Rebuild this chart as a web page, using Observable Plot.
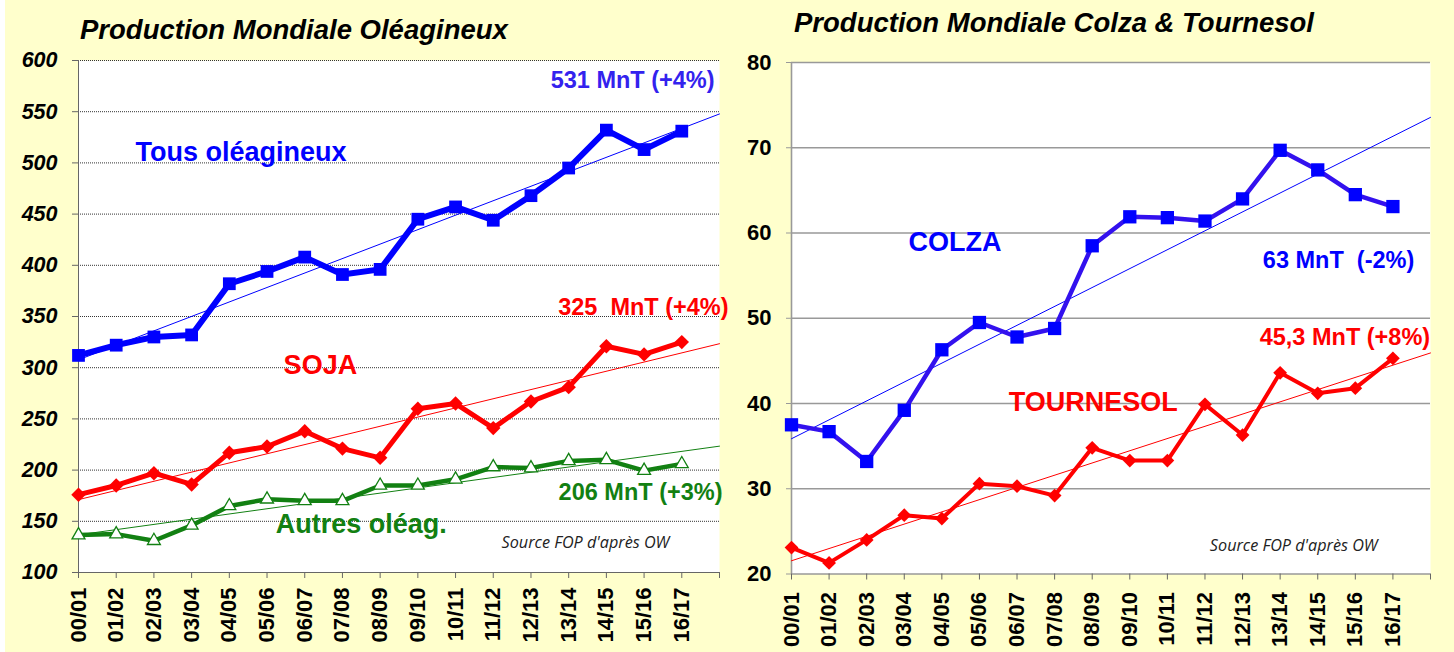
<!DOCTYPE html>
<html><head><meta charset="utf-8">
<script src="https://cdn.jsdelivr.net/npm/d3@7"></script>
<script src="https://cdn.jsdelivr.net/npm/@observablehq/plot@0.6"></script>
<style>
body{margin:0;background:#FFFFCC;width:1454px;height:652px;position:relative;overflow:hidden;font-family:"Liberation Sans",Arial,sans-serif;}
#edge{position:absolute;left:0;top:0;width:5px;height:652px;background:#fff}
.title{position:absolute;font-weight:bold;font-style:italic;font-size:27.5px;line-height:32px;color:#000;white-space:nowrap;}
#t1{left:80px;top:14px;}
#t2{left:794px;top:7px;}
#c1{position:absolute;left:0;top:0}
#c2{position:absolute;left:740px;top:0}
</style></head><body>
<div id="edge"></div>
<div id="c1"></div><div id="c2"></div>
<div class="title" id="t1">Production Mondiale Oléagineux</div>
<div class="title" id="t2">Production Mondiale Colza &amp; Tournesol</div>
<script>
const seasons = ["00/01","01/02","02/03","03/04","04/05","05/06","06/07","07/08","08/09","09/10","10/11","11/12","12/13","13/14","14/15","15/16","16/17"];
const tous = [312,322,330,332,382,394,408,391,396,445,457,444,468,495,532,513,531];
const soja = [176,185,197,186,217,223,238,221,212,260,265,241,267,281,321,313,325];
const autres = [136.5,137.5,131,146,165,171.5,170,170,185,185,191,203,202,209,210,199.5,206];
const colza = [37.5,36.7,33.2,39.2,46.3,49.5,47.8,48.8,58.5,61.9,61.8,61.4,64.0,69.7,67.4,64.5,63.1];
const tournesol = [23.1,21.3,24.0,26.9,26.5,30.6,30.3,29.2,34.8,33.3,33.3,39.9,36.3,43.6,41.2,41.8,45.3];
const leftTicks = [100,150,200,250,300,350,400,450,500,550,600];
const rightTicks = [20,30,40,50,60,70,80];
const leftLabels = ["531 MnT (+4%)","Tous oléagineux","325  MnT (+4%)","SOJA","206 MnT (+3%)","Autres oléag."];
const rightLabels = ["COLZA","63 MnT  (-2%)","45,3 MnT (+8%)","TOURNESOL"];
const sourceLabel = "Source FOP d'après OW";

const FONT = "Liberation Sans, Arial, sans-serif";
const rows = vals => vals.map((v,i)=>({x:i,y:v}));
function trend(vals){
  const xs = d3.range(vals.length);
  const mx = d3.mean(xs), my = d3.mean(vals);
  const b = d3.sum(xs,(x,i)=>(x-mx)*(vals[i]-my))/d3.sum(xs,x=>(x-mx)**2);
  const a = my - b*mx;
  const n = vals.length;
  return [{x:0,y:a},{x:n,y:a+b*n}];
}
const xAxis = (pad) => Plot.axisX({ticks:d3.range(seasons.length+1), tickFormat:i=>seasons[i] ?? "", tickRotate:-90, tickSize:6, tickPadding:pad, fontSize:22, fontWeight:"bold", stroke:"#666", fill:"#000", label:null});
const txt = (s, x, y, fill, size, anchor="start", extra={}) => Plot.text([s], {x, y, fill, fontSize:size, fontWeight:"bold", textAnchor:anchor, fontFamily:FONT, ...extra});

const BLUE="#0000FF", RED="#FF0000", GREEN="#128012";

const p1 = Plot.plot({
  width:740, height:652, marginLeft:78, marginRight:21, marginTop:60, marginBottom:80,
  x:{domain:[0,17], label:null}, y:{domain:[100,600], label:null},
  style:{fontFamily:FONT, color:"#000", background:"transparent", overflow:"visible"},
  marks:[
    Plot.frame({fill:"white", stroke:"none"}),
    Plot.ruleY(leftTicks.slice(1), {stroke:"#333", strokeDasharray:"1,1", strokeWidth:1}),
    Plot.ruleX([0], {stroke:"#666"}),
    Plot.ruleY([100], {stroke:"#666"}),
    Plot.axisY({ticks:leftTicks, tickSize:6, tickPadding:15, fontSize:21.5, fontStyle:"italic", fontWeight:"bold", stroke:"#666", fill:"#000", label:null}),
    xAxis(9),
    Plot.line(trend(tous), {x:"x", y:"y", stroke:BLUE, strokeWidth:1}),
    Plot.line(trend(soja), {x:"x", y:"y", stroke:RED, strokeWidth:1}),
    Plot.line(trend(autres), {x:"x", y:"y", stroke:GREEN, strokeWidth:1}),
    Plot.line(rows(autres), {x:"x", y:"y", stroke:GREEN, strokeWidth:4.5, strokeLinejoin:"round"}),
    Plot.dot(rows(autres), {x:"x", y:"y", symbol:"triangle", r:4.8, fill:"white", stroke:GREEN, strokeWidth:1.3}),
    Plot.line(rows(soja), {x:"x", y:"y", stroke:RED, strokeWidth:5, strokeLinejoin:"round"}),
    Plot.dot(rows(soja), {x:"x", y:"y", symbol:"diamond2", r:6.5, fill:RED, stroke:"none"}),
    Plot.line(rows(tous), {x:"x", y:"y", stroke:BLUE, strokeWidth:6, strokeLinejoin:"round"}),
    Plot.dot(rows(tous), {x:"x", y:"y", symbol:"square", r:7.2, fill:BLUE, stroke:"none"}),
    txt(leftLabels[0], 16.87, 580.5, "#3322EE", 23.5, "end"),
    txt(leftLabels[1], 1.51, 510, BLUE, 27),
    txt(leftLabels[2], 17.24, 358.6, RED, 23.5, "end"),
    txt(leftLabels[3], 5.44, 302, RED, 27),
    txt(leftLabels[4], 17.08, 178, GREEN, 23.5, "end"),
    txt(leftLabels[5], 5.23, 146.6, GREEN, 27),
    Plot.text([sourceLabel], {x:11.22, y:129, textAnchor:"start", fontFamily:"Open Sans", fontStyle:"italic", fontSize:16.2, fill:"#222"})
  ]
});
document.getElementById("c1").appendChild(p1);

const p2 = Plot.plot({
  width:714, height:652, marginLeft:51, marginRight:24, marginTop:62, marginBottom:78.5,
  x:{domain:[0,17], label:null}, y:{domain:[20,80], label:null},
  style:{fontFamily:FONT, color:"#000", background:"transparent", overflow:"visible"},
  marks:[
    Plot.frame({fill:"white", stroke:"none"}),
    Plot.ruleY(rightTicks.slice(1), {stroke:"#999", strokeWidth:1.6}),
    Plot.ruleX([0], {stroke:"#999", strokeWidth:1.6}),
    Plot.ruleY([20], {stroke:"#999", strokeWidth:1.6}),
    Plot.axisY({ticks:rightTicks, tickSize:5, tickPadding:15, fontSize:22, fontWeight:"bold", stroke:"#999", fill:"#000", label:null}),
    xAxis(12),
    Plot.line(trend(colza), {x:"x", y:"y", stroke:BLUE, strokeWidth:1}),
    Plot.line(trend(tournesol), {x:"x", y:"y", stroke:RED, strokeWidth:1}),
    Plot.line(rows(tournesol), {x:"x", y:"y", stroke:RED, strokeWidth:4, strokeLinejoin:"round"}),
    Plot.dot(rows(tournesol), {x:"x", y:"y", symbol:"diamond2", r:6.2, fill:RED, stroke:"none"}),
    Plot.line(rows(colza), {x:"x", y:"y", stroke:"#3311EE", strokeWidth:4.5, strokeLinejoin:"round"}),
    Plot.dot(rows(colza), {x:"x", y:"y", symbol:"square", r:7.5, fill:BLUE, stroke:"none"}),
    txt(rightLabels[0], 3.11, 58.9, BLUE, 27),
    txt(rightLabels[1], 12.54, 56.8, BLUE, 23.5),
    txt(rightLabels[2], 16.99, 47.8, RED, 23.5, "end"),
    txt(rightLabels[3], 5.78, 40.1, RED, 27),
    Plot.text([sourceLabel], {x:11.13, y:23.3, textAnchor:"start", fontFamily:"Open Sans", fontStyle:"italic", fontSize:16.2, fill:"#222"})
  ]
});
document.getElementById("c2").appendChild(p2);
</script>
</body></html>
